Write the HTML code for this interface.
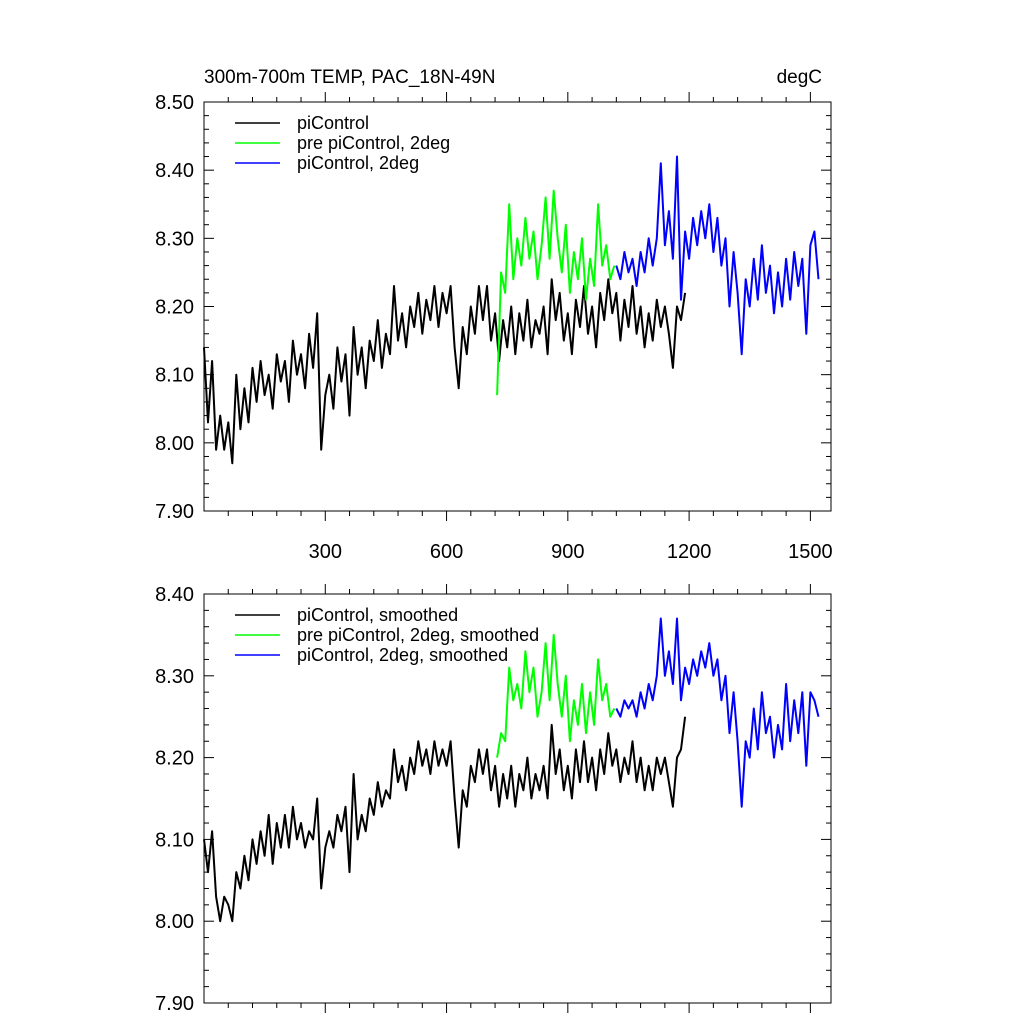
<!DOCTYPE html>
<html><head><meta charset="utf-8"><style>
body{margin:0;background:#fff}
svg{display:block;font-family:"Liberation Sans",sans-serif}
</style></head><body>
<svg id="c" width="1024" height="1024" viewBox="0 0 1024 1024"></svg>
<script>
const blackStart=0, greenStart=725, blueStart=1020, step=10;
const blackTop=[8.14,8.03,8.12,7.99,8.04,7.99,8.03,7.97,8.10,8.02,
8.08,8.03,8.11,8.06,8.12,8.07,8.10,8.05,8.13,8.09,
8.12,8.06,8.15,8.10,8.13,8.08,8.16,8.11,8.19,7.99,
8.07,8.10,8.05,8.14,8.09,8.13,8.04,8.17,8.10,8.14,
8.08,8.15,8.12,8.18,8.11,8.16,8.13,8.23,8.15,8.19,
8.14,8.20,8.17,8.22,8.16,8.21,8.18,8.23,8.17,8.22,
8.19,8.23,8.14,8.08,8.17,8.13,8.20,8.16,8.23,8.18,
8.23,8.15,8.19,8.12,8.18,8.14,8.20,8.13,8.19,8.15,
8.21,8.14,8.18,8.16,8.20,8.13,8.24,8.18,8.22,8.15,
8.19,8.13,8.21,8.17,8.23,8.16,8.20,8.14,8.22,8.18,
8.24,8.19,8.22,8.15,8.21,8.17,8.23,8.16,8.20,8.14,
8.19,8.15,8.21,8.17,8.20,8.16,8.11,8.20,8.18,8.22];
const greenTop=[8.07,8.25,8.22,8.35,8.24,8.30,8.26,8.33,8.27,8.31,8.24,8.29,8.36,8.27,8.37,8.30,8.25,8.32,8.22,8.28,8.24,8.30,8.21,8.27,8.23,8.35,8.26,8.29,8.24,8.26];
const blueTop=[8.26,8.24,8.28,8.25,8.27,8.23,8.28,8.25,8.30,8.26,8.30,8.41,8.29,8.34,8.27,8.42,8.21,8.31,8.27,8.33,8.29,8.34,8.30,8.35,8.28,8.33,8.26,8.30,8.20,8.28,8.22,8.13,8.24,8.20,8.27,8.21,8.29,8.22,8.26,8.19,8.25,8.20,8.27,8.21,8.28,8.23,8.27,8.16,8.29,8.31,8.24];
const blackBot=[8.10,8.06,8.11,8.03,8.00,8.03,8.02,8.00,8.06,8.04,
8.08,8.05,8.10,8.07,8.11,8.08,8.13,8.07,8.12,8.09,
8.13,8.09,8.14,8.10,8.12,8.09,8.11,8.10,8.15,8.04,
8.09,8.11,8.09,8.13,8.11,8.14,8.06,8.18,8.10,8.13,
8.11,8.15,8.13,8.17,8.14,8.16,8.15,8.21,8.17,8.19,
8.16,8.20,8.18,8.22,8.19,8.21,8.18,8.22,8.19,8.21,
8.19,8.22,8.15,8.09,8.16,8.14,8.19,8.17,8.21,8.18,
8.21,8.16,8.19,8.14,8.18,8.15,8.19,8.14,8.18,8.16,
8.20,8.15,8.18,8.16,8.19,8.15,8.24,8.18,8.21,8.16,
8.19,8.15,8.21,8.17,8.22,8.17,8.20,8.16,8.21,8.18,
8.23,8.19,8.21,8.17,8.20,8.18,8.22,8.17,8.20,8.16,
8.19,8.16,8.20,8.18,8.20,8.17,8.14,8.20,8.21,8.25];
const greenBot=[8.20,8.23,8.22,8.31,8.27,8.29,8.26,8.33,8.28,8.31,8.25,8.28,8.34,8.27,8.35,8.29,8.25,8.30,8.22,8.27,8.24,8.29,8.23,8.28,8.24,8.32,8.27,8.29,8.25,8.26];
const blueBot=[8.26,8.25,8.27,8.26,8.27,8.25,8.28,8.26,8.29,8.27,8.30,8.37,8.30,8.33,8.29,8.37,8.27,8.31,8.29,8.32,8.30,8.33,8.31,8.34,8.30,8.32,8.27,8.30,8.23,8.28,8.22,8.14,8.22,8.20,8.26,8.21,8.28,8.23,8.25,8.20,8.24,8.21,8.29,8.22,8.27,8.23,8.28,8.19,8.28,8.27,8.25];
const xTicks=[300,600,900,1200,1500];
const yTicksTop=["7.90","8.00","8.10","8.20","8.30","8.40","8.50"];
const yTicksBot=["7.90","8.00","8.10","8.20","8.30","8.40"];
const legTop=["piControl","pre piControl, 2deg","piControl, 2deg"];
const legBot=["piControl, smoothed","pre piControl, 2deg, smoothed","piControl, 2deg, smoothed"];
const colors=["#000","#00ff00","#0000ff"];

const svg=document.getElementById('c');
const NS='http://www.w3.org/2000/svg';
function mk(t,a,p){const e=document.createElementNS(NS,t);for(const k in a)e.setAttribute(k,a[k]);(p||svg).appendChild(e);return e;}
const L=204,R=831;
const xs=v=>L+v*(R-L)/1551;

function panel(name,top,bot,ymin,ymax,yl,series,leg,labelsX){
  const g=mk('g',{});
  
  
  const ys=v=>bot-(v-ymin)/(ymax-ymin)*(bot-top);
  const fr=mk('rect',{x:L,y:top,width:R-L,height:bot-top,fill:'none',stroke:'#000','stroke-width':1},g);
  
  
  for(let v=ymin;v<=ymax+1e-9;v+=0.02){
    const y=ys(v);const maj=Math.abs(Math.round(v*10)-v*10)<1e-6;const len=maj?10:5;
    mk('line',{x1:L,x2:L+len,y1:y,y2:y,stroke:'#000'},g);
    mk('line',{x1:R,x2:R-len,y1:y,y2:y,stroke:'#000'},g);
  }
  yl.forEach(s=>{const t=mk('text',{x:L-10,y:ys(+s)+7,'text-anchor':'end','font-size':20},g);t.textContent=s;
    });
  for(let v=60;v<=1550;v+=60){const x=xs(v);const maj=v%300===0;const len=maj?10:5;
    mk('line',{x1:x,x2:x,y1:bot,y2:bot+len,stroke:'#000'},g);
    mk('line',{x1:x,x2:x,y1:top,y2:top-len,stroke:'#000'},g);}
  if(labelsX) xTicks.forEach(v=>{const t=mk('text',{x:xs(v),y:bot+47,'text-anchor':'middle','font-size':20},g);t.textContent=v;
    });
  series.forEach((s,i)=>{
    const pts=s.d.map((v,j)=>xs(s.start+j*step).toFixed(1)+','+ys(v).toFixed(1)).join(' ');
    const p=mk('polyline',{points:pts,fill:'none',stroke:colors[i],'stroke-width':2,'stroke-linejoin':'round'},g);
    
    
  });
  leg.forEach((s,i)=>{const y=top+21+i*20;
    const l=mk('line',{x1:235,x2:280,y1:y,y2:y,stroke:colors[i],'stroke-width':1.5},g);
    
    const t=mk('text',{x:297,y:y+6,'font-size':18},g);t.textContent=s;
    });
}
const t1=mk('text',{x:204,y:83,'font-size':19});t1.textContent='300m-700m TEMP, PAC_18N-49N';

const t2=mk('text',{x:822,y:83,'font-size':19,'text-anchor':'end'});t2.textContent='degC';

panel('top-panel',102,511,7.9,8.5,yTicksTop,[{n:'picontrol',start:blackStart,d:blackTop},{n:'pre-picontrol-2deg',start:greenStart,d:greenTop},{n:'picontrol-2deg',start:blueStart,d:blueTop}],legTop,true);
panel('bottom-panel',594,1003,7.9,8.4,yTicksBot,[{n:'picontrol-smoothed',start:blackStart,d:blackBot},{n:'pre-picontrol-2deg-smoothed',start:greenStart,d:greenBot},{n:'picontrol-2deg-smoothed',start:blueStart,d:blueBot}],legBot,false);
</script>
</body></html>
